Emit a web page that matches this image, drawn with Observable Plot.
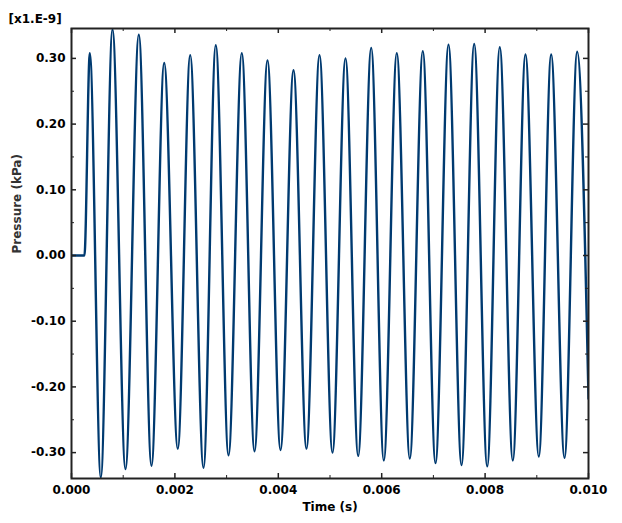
<!DOCTYPE html>
<html>
<head>
<meta charset="utf-8">
<script src="https://cdn.jsdelivr.net/npm/d3@7"></script>
<script src="https://cdn.jsdelivr.net/npm/@observablehq/plot@0.6"></script>
<style>
  html, body { margin: 0; padding: 0; background: white; }
</style>
</head>
<body>
<div id="chart"></div>
<script>
// Signal: start, then alternating peaks / troughs (kPa, x1.E-9)
const time = [
  0.0, 0.00025,
  0.000354, 0.000567, 0.000793, 0.001044, 0.001302, 0.001547, 0.001793, 0.002056,
  0.002296, 0.002553, 0.002791, 0.003037, 0.003294, 0.003540, 0.003791, 0.004043,
  0.004294, 0.004545, 0.004797, 0.005048, 0.005300, 0.005545, 0.005797, 0.006041,
  0.006292, 0.006544, 0.006795, 0.007041, 0.007292, 0.007544, 0.007789, 0.008041,
  0.008284, 0.008536, 0.008781, 0.009039, 0.009278, 0.009536, 0.009781, 0.010
];
const pressure = [
  0.0, 0.0,
  0.308, -0.338, 0.344, -0.325, 0.336, -0.320, 0.293, -0.294,
  0.305, -0.323, 0.320, -0.304, 0.308, -0.298, 0.297, -0.296,
  0.282, -0.294, 0.305, -0.300, 0.300, -0.305, 0.316, -0.312,
  0.308, -0.309, 0.311, -0.316, 0.321, -0.319, 0.322, -0.321,
  0.317, -0.312, 0.306, -0.306, 0.306, -0.308, 0.310, -0.218
];
const xMajor = [0, 0.002, 0.004, 0.006, 0.008, 0.010];
const xMinor = [0.001, 0.003, 0.005, 0.007, 0.009];
const yMajor = [-0.30, -0.20, -0.10, 0.00, 0.10, 0.20, 0.30];
const yMinor = [-0.25, -0.15, -0.05, 0.05, 0.15, 0.25];
const xLabel = "Time (s)";
const yLabel = "Pressure (kPa)";
const scaleNote = "[x1.E-9]";

const data = time.map((t, i) => ({t, p: pressure[i]}));

const W = 622, H = 523;
const mL = 71, mR = 34, mT = 28, mB = 45;
const innerH = H - mT - mB;
const innerW = W - mL - mR;
const major = 5, minor = 3;
const tickColor = "#222";

const chart = Plot.plot({
  width: W,
  height: H,
  marginLeft: mL,
  marginRight: mR,
  marginTop: mT,
  marginBottom: mB,
  style: {
    fontFamily: "'DejaVu Sans', Verdana, sans-serif",
    fontSize: "12px",
    fontWeight: "bold",
    color: "#000",
    background: "white",
    overflow: "visible"
  },
  x: {domain: [0, 0.010]},
  y: {domain: [-0.3394, 0.3455]},
  marks: [
    Plot.line(data, {x: "t", y: "p", curve: "monotone-x", stroke: "#003a70", strokeWidth: 2.4, clip: true}),
    // inward ticks on all four sides
    Plot.ruleX(xMajor, {x: d => d, insetTop: innerH - major, stroke: tickColor, strokeWidth: 1.5}),
    Plot.ruleX(xMajor, {x: d => d, insetBottom: innerH - major, stroke: tickColor, strokeWidth: 1.5}),
    Plot.ruleX(xMinor, {x: d => d, insetTop: innerH - minor, stroke: tickColor, strokeWidth: 1}),
    Plot.ruleX(xMinor, {x: d => d, insetBottom: innerH - minor, stroke: tickColor, strokeWidth: 1}),
    Plot.ruleY(yMajor, {y: d => d, insetRight: innerW - major, stroke: tickColor, strokeWidth: 1.5}),
    Plot.ruleY(yMajor, {y: d => d, insetLeft: innerW - major, stroke: tickColor, strokeWidth: 1.5}),
    Plot.ruleY(yMinor, {y: d => d, insetRight: innerW - minor, stroke: tickColor, strokeWidth: 1}),
    Plot.ruleY(yMinor, {y: d => d, insetLeft: innerW - minor, stroke: tickColor, strokeWidth: 1}),
    Plot.frame({stroke: "#222", strokeWidth: 2}),
    Plot.axisX(xMajor, {tickSize: 0, tickPadding: 7, tickFormat: d => d.toFixed(3), label: null, fill: "#000"}),
    Plot.axisY(yMajor, {tickSize: 0, tickPadding: 6, tickFormat: d => d.toFixed(2), label: null, fill: "#000"}),
    Plot.text([xLabel], {frameAnchor: "bottom", dy: 24, lineAnchor: "top", text: d => d, fill: "#000"}),
    Plot.text([yLabel], {frameAnchor: "left", dx: -54, rotate: -90, text: d => d, fill: "#333"}),
    Plot.text([scaleNote], {frameAnchor: "top-left", dx: -63, dy: -14, textAnchor: "start", text: d => d, fill: "#000"})
  ]
});
document.getElementById("chart").appendChild(chart);
</script>
</body>
</html>
